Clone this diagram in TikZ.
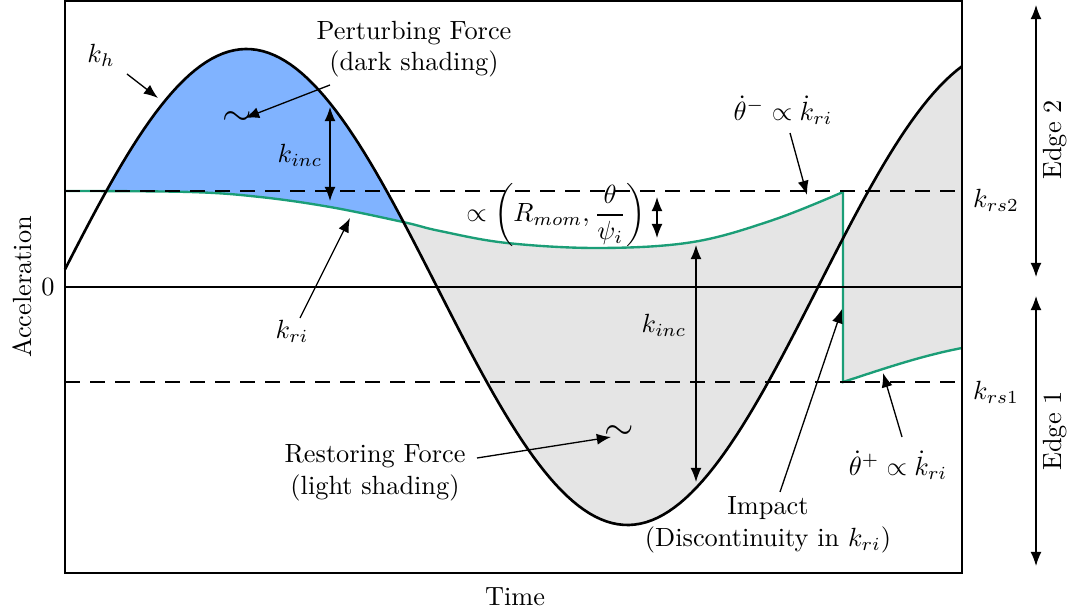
\documentclass[tikz,border=0pt]{standalone}
\usepackage{amsmath}
\usepackage{amssymb}
\usetikzlibrary{positioning,arrows.meta,calc}

\definecolor{darkshade}{RGB}{128,179,255}
\definecolor{kricol}{RGB}{27,158,119}

\begin{document}
\begin{tikzpicture}[
  x=0.38pt,y=-0.38pt,>={Latex[length=5.4pt,width=4.2pt]},
  curve/.style={line width=1pt,black},
  kri/.style={line width=0.9pt,kricol},
  lvl/.style={line width=0.9pt,dash pattern=on 5.7pt off 3.8pt},
  arr/.style={->,line width=0.5pt},
  darr/.style={<->,line width=0.5pt},
  lbl/.style={inner sep=1pt,align=center},
]
  \useasboundingbox (0,0) rectangle (1071,613);
  \def\khfun{287-238*sin((\x-56)/762*360)}
  \def\kritop{plot[smooth,tension=0.6] coordinates {(65,191) (190,192)
    (260,197) (330,207) (403,222) (440,231) (507,243) (600,248) (693,242)
    (773,220) (843,192)}}
  \def\kribot{(843,382) .. controls (880,370) and (920,356) .. (962,348)}

  % shading
  \begin{scope}
    \clip \kritop -- (843,0) -- (65,0) -- cycle;
    \fill[darkshade] plot[domain=65:403,samples=60] (\x,{\khfun})
      -- (403,573) -- (65,573) -- cycle;
  \end{scope}
  \begin{scope}
    \clip \kritop -- (843,573) -- (65,573) -- cycle;
    \fill[gray!20] plot[domain=403:843,samples=80] (\x,{\khfun})
      -- (843,0) -- (403,0) -- cycle;
  \end{scope}
  \begin{scope}
    \clip \kribot -- (962,0) -- (843,0) -- cycle;
    \fill[gray!20] plot[domain=843:962,samples=30] (\x,{\khfun})
      -- (962,573) -- (843,573) -- cycle;
  \end{scope}

  % levels and curves
  \draw[kri] \kritop -- \kribot;
  \draw[lvl] (65,191) -- (962,191);
  \draw[lvl] (65,382) -- (962,382);
  \draw[line width=0.9pt] (65,287) -- (962,287);
  \draw[curve] plot[domain=65:962,samples=160] (\x,{\khfun});
  \draw[line width=1pt] (65,1) rectangle (962,573);

  % axes
  \node (zero) at (48,287) {0};
  \node[rotate=90] (acc) at (22,287) {Acceleration};
  \node (time) at (515,597) {Time};
  \node (krs2) at (996,200) {$k_{rs2}$};
  \node (krs1) at (996,392) {$k_{rs1}$};

  % edges
  \coordinate (e2top) at (1036,5);
  \coordinate (e2bot) at (1036,277);
  \coordinate (e1top) at (1036,296);
  \coordinate (e1bot) at (1036,566);
  \draw[darr] (e2top) -- (e2bot);
  \draw[darr] (e1top) -- (e1bot);
  \node[rotate=90] (edge2) at (1055,140) {Edge 2};
  \node[rotate=90] (edge1) at (1055,431) {Edge 1};

  % labels
  \node (kh) at (101,55) {$k_h$};
  \coordinate (khtail) at (127,74);
  \coordinate (khhead) at (158,98);
  \draw[arr] (khtail) -- (khhead);

  \node[lbl] (pert) at (414,49) {Perturbing Force\\(dark shading)};
  \node (pertsym) at (237,119) {\Large$\sim$};
  \coordinate (perttail) at (330,85);
  \coordinate (perthead) at (245,118);
  \draw[arr] (perttail) -- (perthead);

  \coordinate (inc1top) at (330,107);
  \coordinate (inc1bot) at (330,201);
  \draw[darr] (inc1top) -- (inc1bot);
  \node (inc1) at (300,155) {$k_{inc}$};

  \node (kri) at (292,331) {$k_{ri}$};
  \coordinate (kritail) at (300,318);
  \coordinate (krihead) at (350,218);
  \draw[arr] (kritail) -- (krihead);

  \node (prop) at (556,215) {$\propto\left(R_{mom},\dfrac{\theta}{\psi_i}\right)$};
  \coordinate (proptop) at (657,197);
  \coordinate (propbot) at (657,238);
  \draw[darr] (proptop) -- (propbot);

  \coordinate (inc2top) at (696,245);
  \coordinate (inc2bot) at (696,482);
  \draw[darr] (inc2top) -- (inc2bot);
  \node (inc2) at (664,325) {$k_{inc}$};

  \node (thminus) at (783,110) {$\dot{\theta}^{-}\propto\dot{k}_{ri}$};
  \coordinate (thmtail) at (790,133);
  \coordinate (thmhead) at (807,195);
  \draw[arr] (thmtail) -- (thmhead);

  \node (thplus) at (898,465) {$\dot{\theta}^{+}\propto\dot{k}_{ri}$};
  \coordinate (thptail) at (902,437);
  \coordinate (thphead) at (883,373);
  \draw[arr] (thptail) -- (thphead);

  \node[lbl] (impact) at (768,525) {Impact\\(Discontinuity in $k_{ri}$)};
  \coordinate (imptail) at (780,492);
  \coordinate (imphead) at (842,309);
  \draw[arr] (imptail) -- (imphead);

  \node[lbl] (rest) at (375,473) {Restoring Force\\(light shading)};
  \node (restsym) at (619,433) {\Large$\sim$};
  \coordinate (resttail) at (477,458);
  \coordinate (resthead) at (611,437);
  \draw[arr] (resttail) -- (resthead);
\end{tikzpicture}
\end{document}
